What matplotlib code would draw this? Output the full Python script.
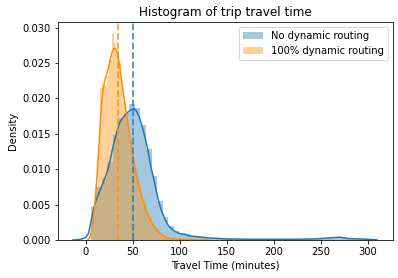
import matplotlib
matplotlib.use('Agg')
import matplotlib.pyplot as plt
import numpy as np

# histogram bins (travel time, minutes) and densities
blue_lo, blue_hi = 5, 300
blue_density = [0.0047, 0.0075, 0.0088, 0.0110, 0.0148, 0.0172, 0.0180, 0.0192, 0.0186, 0.0162,
                0.0128, 0.0090, 0.0055, 0.0033, 0.0020, 0.0013, 0.0010, 0.0008, 0.0006, 0.0005,
                0.0004, 0.0003, 0.00025, 0.0002, 0.00018, 0.00015, 0.00012, 0.0001, 0.0001, 0.00009,
                0.00008, 0.00008, 0.00007, 0.00008, 0.00007, 0.00008, 0.0001, 0.0001, 0.00012, 0.00015,
                0.0002, 0.00025, 0.0003, 0.00035, 0.0004, 0.00035, 0.00025, 0.0002, 0.00015, 0.0001]

orange_lo, orange_hi = 5, 130
orange_density = [0.0010, 0.0035, 0.0075, 0.0130, 0.0215, 0.0220, 0.0218, 0.0232, 0.0255, 0.0293,
                  0.0278, 0.0268, 0.0250, 0.0222, 0.0195, 0.0172, 0.0150, 0.0130, 0.0112, 0.0098,
                  0.0085, 0.0072, 0.0060, 0.0050, 0.0040, 0.0032, 0.0025, 0.0020, 0.0015, 0.0011,
                  0.0008, 0.0006, 0.0004, 0.0003, 0.0003, 0.0002, 0.0002, 0.0002, 0.00015, 0.00012,
                  0.0001, 0.0001, 0.00008, 0.00007, 0.00006, 0.00005, 0.00005, 0.00004, 0.00003, 0.00003]

# KDE curves
blue_kde_x = [-14, -8, -3, 0, 3, 6, 9, 12, 15, 18, 21, 24, 27, 30, 33, 36, 39, 42, 45, 48,
              51, 54, 57, 60, 63, 66, 69, 72, 75, 78, 81, 84, 87, 90, 95, 100, 105, 110, 120, 130,
              150, 175, 200, 225, 245, 260, 270, 280, 290, 300, 310]
blue_kde_y = [0, 0.00005, 0.0002, 0.0004, 0.0010, 0.0030, 0.0048, 0.0060, 0.0070, 0.0080,
              0.0090, 0.0102, 0.0120, 0.0138, 0.0153, 0.0166, 0.0172, 0.0177, 0.0181, 0.0184,
              0.0186, 0.0182, 0.0173, 0.0160, 0.0145, 0.0127, 0.0105, 0.0088, 0.0069, 0.0052,
              0.0040, 0.0030, 0.0022, 0.0017, 0.0012, 0.0009, 0.0008, 0.0006, 0.00045, 0.0003,
              0.00015, 0.0001, 0.0001, 0.0001, 0.00015, 0.0003, 0.0004, 0.0002, 0.00015, 0.0001, 0.00002]

orange_kde_x = [2, 4, 6, 8, 10, 12, 14, 16, 18, 20, 22, 24, 26, 28, 30, 32, 34, 36, 38, 40,
                42, 44, 46, 48, 50, 52, 55, 58, 61, 64, 67, 70, 73, 76, 80, 85, 90, 100, 110, 120, 130]
orange_kde_y = [0, 0.0003, 0.0012, 0.0030, 0.0058, 0.0092, 0.0135, 0.0180, 0.0210, 0.0225,
                0.0234, 0.0243, 0.0255, 0.0266, 0.0271, 0.0270, 0.0262, 0.0246, 0.0226, 0.0206,
                0.0188, 0.0172, 0.0153, 0.0135, 0.0118, 0.0103, 0.0085, 0.0068, 0.0054, 0.0042,
                0.0032, 0.0024, 0.0018, 0.0013, 0.0008, 0.0004, 0.0002, 0.0001, 0.00006, 0.00003, 0.00001]

blue_mean = 50.7
orange_mean = 33.7

fig = plt.figure(figsize=(398 / 72, 278 / 72), dpi=72)
ax = fig.add_axes([0.145, 0.1367, 0.8424, 0.7831])

blue_edges = np.linspace(blue_lo, blue_hi, len(blue_density) + 1)
orange_edges = np.linspace(orange_lo, orange_hi, len(orange_density) + 1)

ax.bar(blue_edges[:-1], blue_density, width=np.diff(blue_edges), align='edge',
       color='#1f77b4', alpha=0.4, linewidth=0, label='No dynamic routing')
ax.plot(blue_kde_x, blue_kde_y, color='#1f77b4', linewidth=1.5)

ax.bar(orange_edges[:-1], orange_density, width=np.diff(orange_edges), align='edge',
       color='darkorange', alpha=0.4, linewidth=0, label='100% dynamic routing')
ax.plot(orange_kde_x, orange_kde_y, color='darkorange', linewidth=1.5)

ax.axvline(blue_mean, color='#1f77b4', linestyle='--', linewidth=1.8, alpha=0.8)
ax.axvline(orange_mean, color='darkorange', linestyle='--', linewidth=1.8, alpha=0.8)

ax.set_xlim(-30, 327)
ax.set_ylim(0, 0.03076)
ax.set_xticks([0, 50, 100, 150, 200, 250, 300])
ax.set_yticks([0.0, 0.005, 0.010, 0.015, 0.020, 0.025, 0.030])
ax.yaxis.set_major_formatter(matplotlib.ticker.FormatStrFormatter('%.3f'))

ax.set_title('Histogram of trip travel time', fontsize=12)
ax.set_xlabel('Travel Time (minutes)', fontsize=10)
ax.set_ylabel('Density', fontsize=10)
ax.legend(loc='upper right', fontsize=10)

fig.savefig('out.png', dpi=72)
